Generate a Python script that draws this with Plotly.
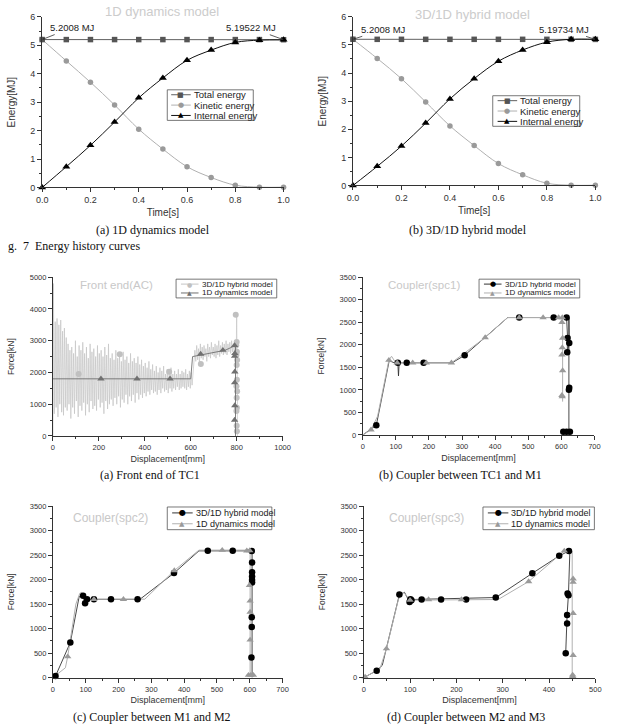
import plotly.graph_objects as go

W, H = 619, 726
def px(x): return x / W
def py(y): return 1 - y / H

# ---------------- DATA ----------------
# Fig. 7 energy history
time_s = [0.0, 0.1, 0.2, 0.3, 0.4, 0.5, 0.6, 0.7, 0.8, 0.9, 1.0]
d1_total = [5.2008, 5.2, 5.2, 5.2, 5.2, 5.2, 5.2, 5.2, 5.2, 5.2, 5.19522]
d1_kinetic = [5.2, 4.45, 3.7, 2.9, 2.05, 1.35, 0.73, 0.35, 0.08, 0.01, 0.01]
d1_internal = [0.0, 0.73, 1.48, 2.3, 3.15, 3.85, 4.47, 4.83, 5.1, 5.18, 5.19]
hy_total = [5.2008, 5.2, 5.2, 5.2, 5.2, 5.2, 5.2, 5.2, 5.2, 5.2, 5.19734]
hy_kinetic = [5.2, 4.52, 3.8, 2.97, 2.12, 1.42, 0.78, 0.38, 0.08, 0.01, 0.01]
hy_internal = [0.0, 0.68, 1.4, 2.22, 3.08, 3.8, 4.42, 4.82, 5.1, 5.2, 5.2]

# (a) Front end of TC1 - hybrid (noisy) signal
fe_hyb_x = [0, 2, 6, 10, 14, 18, 22, 26, 30, 34, 38, 42, 46, 50, 54, 58,
            62, 66, 70, 74, 78, 82, 86, 90, 94, 98, 102, 106, 110, 114, 118, 122,
            126, 130, 134, 138, 142, 146, 150, 154, 158, 162, 166, 170, 174, 178, 182, 186,
            190, 194, 198, 202, 206, 210, 214, 218, 222, 226, 230, 234, 238, 242, 246, 250,
            254, 258, 262, 266, 270, 274, 278, 282, 286, 290, 294, 298, 302, 306, 310, 314,
            318, 322, 326, 330, 334, 338, 342, 346, 350, 354, 358, 362, 366, 370, 374, 378,
            382, 386, 390, 394, 398, 402, 406, 410, 414, 418, 422, 426, 430, 434, 438, 442,
            446, 450, 454, 458, 462, 466, 470, 474, 478, 482, 486, 490, 494, 498, 502, 506,
            510, 514, 518, 522, 526, 530, 534, 538, 542, 546, 550, 554, 558, 562, 566, 570,
            574, 578, 582, 586, 590, 594, 598, 602, 606, 610, 614, 618, 622, 626, 630, 634,
            638, 642, 646, 650, 654, 658, 662, 666, 670, 674, 678, 682, 686, 690, 694, 698,
            702, 706, 710, 714, 718, 722, 726, 730, 734, 738, 742, 746, 750, 754, 758, 762,
            766, 770, 774, 778, 782, 786, 790, 794, 798, 800, 801, 802, 801, 803, 802, 804,
            803, 805, 803, 804]
fe_hyb_f = [0, 4800, 700, 3600, 900, 3700, 600, 3500, 1000, 3650, 750, 3300, 650, 3400, 900, 3100,
            800, 2900, 1000, 2700, 550, 2800, 900, 2600, 700, 3000, 1100, 2500, 600, 2850, 950, 2700,
            800, 2950, 1050, 2600, 650, 2800, 1000, 2450, 750, 2900, 1100, 2650, 850, 2750, 950, 2500,
            800, 2850, 1150, 2600, 900, 2700, 1050, 2500, 700, 2800, 1100, 2550, 850, 2900, 1000, 2450,
            1150, 2600, 950, 2400, 1200, 2700, 1000, 2450, 1250, 2550, 900, 2350, 1150, 2650, 1050, 2400,
            1300, 2500, 1000, 2300, 1250, 2600, 1100, 2350, 1300, 2450, 1050, 2300, 1350, 2500, 1150, 2250,
            1300, 2400, 1200, 2200, 1350, 2300, 1250, 2150, 1400, 2350, 1300, 2100, 1450, 2250, 1350, 2050,
            1400, 2200, 1300, 2000, 1450, 2150, 1350, 2050, 1500, 2200, 1400, 1950, 1450, 2100, 1350, 2000,
            1500, 2150, 1400, 1950, 1500, 2050, 1450, 1950, 1550, 2100, 1450, 1950, 1500, 2050, 1550, 2000,
            1500, 2100, 1450, 1950, 1550, 2050, 1500, 2000, 1600, 2100, 2400, 2700, 2350, 2850, 2400, 2750,
            2300, 2900, 2450, 2800, 2400, 2850, 2500, 2750, 2350, 2900, 2500, 2800, 2450, 2950, 2550, 2800,
            2500, 2900, 2450, 2850, 2550, 3000, 2500, 2850, 2600, 2950, 2550, 2900, 2600, 3000, 2550, 2900,
            2650, 2950, 2600, 3000, 2650, 2900, 2600, 2950, 2500, 3800, 2900, 2400, 2700, 2000, 1500, 1200,
            800, 300, 100, 0]
fe_hyb_mx = [112, 291, 506, 644, 796, 800, 798, 801, 799, 802, 800, 801, 799, 802, 800, 801, 799, 800, 801]
fe_hyb_mf = [1950, 2570, 2020, 2270, 3820, 2960, 2857, 2650, 2547, 2391, 2236, 1770, 1563, 1408, 1201, 891, 787, 320, 150]
fe_1d_x = [0, 600, 608, 660, 750, 795, 795]
fe_1d_f = [1800, 1800, 2500, 2580, 2700, 2850, 0]
fe_1d_mx = [209, 366, 510, 643, 740, 791, 792, 791, 792, 791, 792, 791]
fe_1d_mf = [1800, 1800, 1800, 2578, 2700, 2850, 2600, 2515, 2020, 1680, 960, 500]

# (b) Coupler spc1
c1_hyb_x = [0, 41, 80, 95, 106, 108, 110, 133, 184, 270, 308, 438, 577, 616, 619, 618, 624, 623, 623, 623, 616, 606]
c1_hyb_f = [0, 218, 1650, 1600, 1600, 1310, 1601, 1601, 1601, 1601, 1768, 2605, 2605, 2605, 2154, 1834, 2038, 2605, 1048, 73, 73, 73]
c1_hyb_mx = [41, 106, 133, 184, 308, 473, 577, 616, 619, 618, 624, 624, 623, 606, 616, 626]
c1_hyb_mf = [218, 1601, 1601, 1601, 1768, 2605, 2605, 2605, 2154, 1834, 2038, 1048, 1004, 73, 73, 73]
c1_1d_x = [0, 25, 45, 79, 87, 100, 268, 370, 438, 604, 604, 604]
c1_1d_f = [0, 116, 420, 1659, 1746, 1601, 1601, 2161, 2605, 2605, 1000, 740]
c1_1d_mx = [25, 79, 104, 151, 192, 268, 370, 473, 545, 592, 603, 602, 604, 603, 602, 604, 602, 603]
c1_1d_mf = [116, 1659, 1601, 1601, 1601, 1601, 2161, 2605, 2605, 2605, 2605, 2500, 2150, 1940, 1780, 1430, 880, 850]

# (c) Coupler spc2
c2_hyb_x = [0, 8, 53, 80, 92, 98, 104, 265, 369, 445, 605, 607, 607]
c2_hyb_f = [0, 33, 715, 1650, 1670, 1516, 1596, 1596, 2131, 2585, 2585, 2580, 0]
c2_hyb_mx = [8, 53, 92, 98, 104, 125, 177, 258, 369, 472, 548, 606, 607, 607, 607, 607, 607, 606, 606, 605]
c2_hyb_mf = [33, 715, 1670, 1516, 1596, 1596, 1596, 1596, 2131, 2585, 2585, 2580, 2350, 2150, 2060, 1990, 1940, 1230, 1030, 410]
c2_1d_x = [0, 38, 45, 70, 82, 88, 100, 280, 370, 445, 600, 601, 601, 590]
c2_1d_f = [0, 200, 427, 1500, 1720, 1740, 1600, 1600, 2184, 2600, 2600, 2590, 50, 50]
c2_1d_mx = [45, 125, 215, 370, 516, 591, 600, 599, 601, 601, 601, 596, 603, 611]
c2_1d_mf = [427, 1596, 1596, 2184, 2598, 2585, 2590, 1883, 1563, 1336, 768, 50, 50, 50]

# (d) Coupler spc3
c3_hyb_x = [0, 28, 40, 77, 88, 99, 105, 285, 364, 422, 443, 445, 442, 439, 436]
c3_hyb_f = [0, 141, 250, 1693, 1740, 1540, 1593, 1633, 2128, 2483, 2583, 2583, 1713, 1278, 495]
c3_hyb_mx = [28, 77, 99, 101, 103, 125, 167, 221, 285, 364, 422, 443, 440, 442, 439, 439, 436]
c3_hyb_mf = [141, 1693, 1540, 1600, 1580, 1593, 1593, 1593, 1633, 2128, 2483, 2583, 1713, 1680, 1278, 1104, 495]
c3_1d_x = [0, 35, 49, 75, 86, 100, 290, 356, 433, 450, 450]
c3_1d_f = [0, 180, 589, 1600, 1740, 1580, 1593, 1960, 2583, 2583, 0]
c3_1d_mx = [3, 49, 100, 140, 211, 356, 433, 452, 452, 452, 452, 451, 451]
c3_1d_mf = [13, 589, 1580, 1593, 1593, 1960, 2583, 2014, 1947, 1312, 455, 54, 27]

# ---------------- FIGURE ----------------
fig = go.Figure()
SANS = "Liberation Sans, Arial, sans-serif"
SERIF = "Liberation Serif, Times New Roman, serif"

def line_tr(x, y, color, width, axn, shape="linear"):
    fig.add_trace(go.Scatter(x=x, y=y, mode="lines", line=dict(color=color, width=width, shape=shape),
                             xaxis="x%d" % axn, yaxis="y%d" % axn, showlegend=False,
                             hoverinfo="skip", cliponaxis=False))

def mark_tr(x, y, color, symbol, size, axn):
    fig.add_trace(go.Scatter(x=x, y=y, mode="markers",
                             marker=dict(color=color, symbol=symbol, size=size, line=dict(width=0)),
                             xaxis="x%d" % axn, yaxis="y%d" % axn, showlegend=False, cliponaxis=False))

# Panel 1 & 2: energy
for axn, tot, kin, intl in [(1, d1_total, d1_kinetic, d1_internal), (2, hy_total, hy_kinetic, hy_internal)]:
    line_tr(time_s, kin, "#b0b0b0", 1, axn, "spline")
    mark_tr(time_s, kin, "#9a9a9a", "circle", 5.5, axn)
    line_tr(time_s, tot, "#606060", 1, axn)
    mark_tr(time_s, tot, "#555555", "square", 5.5, axn)
    line_tr(time_s, intl, "#111111", 1, axn, "spline")
    mark_tr(time_s, intl, "#000000", "triangle-up", 7, axn)

# Panel 3: front end
line_tr(fe_hyb_x, fe_hyb_f, "#c4c4c4", 0.7, 3)
mark_tr(fe_hyb_mx, fe_hyb_mf, "#c0c0c0", "circle", 6, 3)
line_tr(fe_1d_x, fe_1d_f, "#707070", 0.9, 3)
mark_tr(fe_1d_mx, fe_1d_mf, "#707070", "triangle-up", 6.5, 3)

# Panels 4-6 couplers
for axn, hx, hf, hmx, hmf, dx, df, dmx, dmf in [
        (4, c1_hyb_x, c1_hyb_f, c1_hyb_mx, c1_hyb_mf, c1_1d_x, c1_1d_f, c1_1d_mx, c1_1d_mf),
        (5, c2_hyb_x, c2_hyb_f, c2_hyb_mx, c2_hyb_mf, c2_1d_x, c2_1d_f, c2_1d_mx, c2_1d_mf),
        (6, c3_hyb_x, c3_hyb_f, c3_hyb_mx, c3_hyb_mf, c3_1d_x, c3_1d_f, c3_1d_mx, c3_1d_mf)]:
    line_tr(hx, hf, "#333333", 0.9, axn)
    line_tr(dx, df, "#b0b0b0", 1, axn)
    mark_tr(hmx, hmf, "#000000", "circle", 6.5, axn)
    mark_tr(dmx, dmf, "#9a9a9a", "triangle-up", 6.5, axn)

# ---------------- AXES ----------------
def axis(domain, anchor, rng, dtick, mdtick, fsize, title, tsize, standoff, fmt=None):
    d = dict(domain=domain, anchor=anchor, range=rng, dtick=dtick, tick0=0,
             showline=True, linecolor="#333", linewidth=1, ticks="outside", ticklen=4,
             tickwidth=1, tickcolor="#333",
             minor=dict(ticks="outside", ticklen=2, dtick=mdtick, tick0=0, tickcolor="#333", showgrid=False),
             showgrid=False, zeroline=False, fixedrange=True,
             tickfont=dict(family=SANS, size=fsize, color="#333"),
             title=dict(text=title, font=dict(family=SANS, size=tsize, color="#333"), standoff=standoff))
    if fmt:
        d["tickformat"] = fmt
    return d

panels = [
    # (x0,x1,ytop,ybottom) px
    (37, 284, 12, 185),
    (355, 603, 12, 183),
    (48, 283, 276, 437),
    (365, 602, 276, 436),
    (48, 283, 508, 682),
    (366, 603, 508, 682),
]
lay = {}
xcfg = [([0, 1], 0.2, 0.1, 9, "Time[s]", 10, 4, ".1f"),
        ([0, 1], 0.2, 0.1, 9, "Time[s]", 10, 4, ".1f"),
        ([0, 1000], 200, 100, 7.5, "Displacement[mm]", 9, 4, None),
        ([0, 700], 100, 50, 7.5, "Displacement[mm]", 9, 4, None),
        ([0, 700], 100, 50, 7.5, "Displacement[mm]", 9, 4, None),
        ([0, 500], 100, 50, 7.5, "Displacement[mm]", 9, 4, None)]
ycfg = [([0, 6], 1, 0.5, 9, "Energy[MJ]", 10, 12),
        ([0, 6], 1, 0.5, 9, "Energy[MJ]", 10, 12),
        ([0, 5000], 1000, 500, 7.5, "Force[kN]", 8.5, 13),
        ([0, 3500], 500, 250, 7.5, "Force[kN]", 8.5, 13),
        ([0, 3500], 500, 250, 7.5, "Force[kN]", 8.5, 13),
        ([0, 3500], 500, 250, 7.5, "Force[kN]", 8.5, 13)]
for i, (x0, x1, yt, yb) in enumerate(panels):
    n = i + 1
    xr, xd, xm, xf, xt, xts, xso, xfmt = xcfg[i]
    yr, yd, ym, yf, yt_, yts, yso = ycfg[i]
    lay["xaxis%d" % n] = axis([px(x0), px(x1)], "y%d" % n, xr, xd, xm, xf, xt, xts, xso, xfmt)
    lay["yaxis%d" % n] = axis([py(yb), py(yt)], "x%d" % n, yr, yd, ym, yf, yt_, yts, yso)

fig.update_layout(**lay)

# ---------------- ANNOTATIONS ----------------
ann = []
shapes = []
def text(x, y, s, size, color="#222", family=SANS, xanchor="center"):
    ann.append(dict(x=px(x), y=py(y), xref="paper", yref="paper", text=s, showarrow=False,
                    font=dict(family=family, size=size, color=color), xanchor=xanchor, yanchor="middle"))

# panel titles (light gray)
text(160, 7, "1D dynamics model", 13, "#cccccc")
text(477, 10, "3D/1D hybrid model", 13, "#cccccc")
text(113, 284, "Front end(AC)", 11.5, "#c8c8c8")
text(428, 284, "Coupler(spc1)", 11.5, "#c8c8c8")
text(107, 520, "Coupler(spc2)", 12, "#c8c8c8")
text(430, 520, "Coupler(spc3)", 12, "#c8c8c8")

# captions
text(150, 228, "(a) 1D dynamics model", 12, "#111", SERIF)
text(473, 228, "(b) 3D/1D hybrid model", 12, "#111", SERIF)
text(0, 244, "g.  7  Energy history curves", 12, "#111", SERIF, "left")
text(147, 477, "(a) Front end of TC1", 12, "#111", SERIF)
text(465, 477, "(b) Coupler between TC1 and M1", 12, "#111", SERIF)
text(149, 722, "(c) Coupler between M1 and M2", 12, "#111", SERIF)
text(471, 722, "(d) Coupler between M2 and M3", 12, "#111", SERIF)

# energy value callouts
for axn, xv, yv, s, axo, ayo in [(1, 0, d1_total[0], "5.2008 MJ", 30, -12),
                                 (1, 1, d1_total[-1], "5.19522 MJ", -33, -12),
                                 (2, 0, hy_total[0], "5.2008 MJ", 31, -10),
                                 (2, 1, hy_total[-1], "5.19734 MJ", -31, -10)]:
    ann.append(dict(x=xv, y=yv, xref="x%d" % axn, yref="y%d" % axn, text=s, showarrow=True,
                    ax=axo, ay=ayo, arrowhead=2, arrowsize=0.6, arrowwidth=0.8, arrowcolor="#333",
                    font=dict(family=SANS, size=9.5, color="#222")))

# manual legends
def legend(box, rows, fsize, lx0, lx1, tx):
    x0, y0, x1, y1 = box
    shapes.append(dict(type="rect", xref="paper", yref="paper", x0=px(x0), x1=px(x1), y0=py(y1), y1=py(y0),
                       line=dict(color="#555", width=0.8), fillcolor="rgba(255,255,255,0)"))
    for (y, label, lcol, glyph, gcol, gsize) in rows:
        shapes.append(dict(type="line", xref="paper", yref="paper", x0=px(lx0), x1=px(lx1), y0=py(y), y1=py(y),
                           line=dict(color=lcol, width=1)))
        ann.append(dict(x=px((lx0 + lx1) / 2), y=py(y), xref="paper", yref="paper", text=glyph, showarrow=False,
                        font=dict(family="DejaVu Sans", size=gsize, color=gcol), xanchor="center", yanchor="middle"))
        text(tx, y, label, fsize, "#222", SANS, "left")

E_ROWS = lambda ys: [(ys[0], "Total energy", "#606060", "■", "#555", 7),
                     (ys[1], "Kinetic energy", "#b0b0b0", "●", "#9a9a9a", 7),
                     (ys[2], "Internal energy", "#111", "▲", "#000", 7)]
legend((165, 86, 253, 117), E_ROWS([91, 101.5, 112]), 9.5, 169, 189, 190)
legend((498, 92, 587, 123), E_ROWS([97, 107.5, 118]), 9.5, 503, 523, 524)
legend((174, 278, 277, 297), [(283, "3D/1D hybrid model", "#c4c4c4", "●", "#c0c0c0", 6),
                              (292, "1D dynamics model", "#707070", "▲", "#707070", 6)], 8, 179, 197, 198)
legend((484, 278, 587, 297), [(283, "3D/1D hybrid model", "#333", "●", "#000", 7),
                              (292, "1D dynamics model", "#b0b0b0", "▲", "#9a9a9a", 6)], 8, 489, 507, 508)
legend((165, 509, 272, 532), [(515, "3D/1D hybrid model", "#333", "●", "#000", 8),
                              (526, "1D dynamics model", "#b0b0b0", "▲", "#9a9a9a", 7)], 9, 170, 191, 192)
legend((488, 509, 602, 532), [(515, "3D/1D hybrid model", "#333", "●", "#000", 8),
                              (526, "1D dynamics model", "#b0b0b0", "▲", "#9a9a9a", 7)], 9, 493, 514, 515)

fig.update_layout(annotations=ann, shapes=shapes, width=W, height=H,
                  margin=dict(l=0, r=0, t=0, b=0), paper_bgcolor="white", plot_bgcolor="white",
                  showlegend=False)
fig.write_html("out.html", config={"displayModeBar": False})
